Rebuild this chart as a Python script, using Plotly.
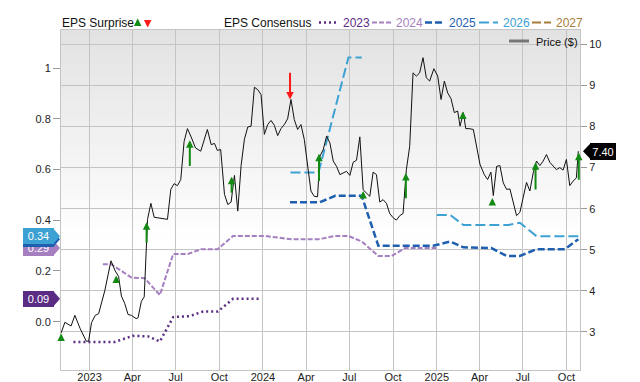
import plotly.graph_objects as go

# ---------------- data ----------------
price_dates = ["2022-11-02","2022-11-10","2022-11-23","2022-12-01","2022-12-12","2022-12-25","2022-12-30",
    "2023-01-05","2023-01-13","2023-01-20","2023-02-02","2023-02-15","2023-02-24","2023-03-03","2023-03-09",
    "2023-03-16","2023-03-23","2023-03-30","2023-04-09","2023-04-13","2023-04-20","2023-04-26","2023-05-03",
    "2023-05-10","2023-05-17","2023-06-12","2023-06-14","2023-06-21","2023-06-28","2023-07-05","2023-07-12",
    "2023-07-19","2023-07-26","2023-08-02","2023-08-12","2023-08-23","2023-09-06","2023-09-14","2023-09-21",
    "2023-09-27","2023-10-04","2023-10-12","2023-10-19","2023-10-26","2023-11-02","2023-11-09","2023-11-16",
    "2023-11-23","2023-11-30","2023-12-07","2023-12-14","2023-12-21","2023-12-28","2024-01-04","2024-01-11",
    "2024-01-18","2024-01-25","2024-02-01","2024-02-08","2024-02-15","2024-02-22","2024-02-29","2024-03-07",
    "2024-03-14","2024-03-21","2024-03-28","2024-04-04","2024-04-11","2024-04-18","2024-04-25","2024-04-30",
    "2024-05-07","2024-05-14","2024-05-21","2024-05-28","2024-06-04","2024-06-11","2024-06-18","2024-06-25",
    "2024-07-02","2024-07-09","2024-07-16","2024-07-23","2024-07-30","2024-08-06","2024-08-13","2024-08-20",
    "2024-08-27","2024-09-03","2024-09-10","2024-09-17","2024-09-24","2024-10-01","2024-10-08","2024-10-15",
    "2024-10-22","2024-10-29","2024-11-05","2024-11-12","2024-11-19","2024-11-26","2024-12-03","2024-12-10",
    "2024-12-17","2024-12-26","2025-01-03","2025-01-10","2025-01-17","2025-01-24","2025-01-31","2025-02-07",
    "2025-02-14","2025-02-19","2025-02-26","2025-03-03","2025-03-10","2025-03-19","2025-03-26","2025-04-02",
    "2025-04-11","2025-04-18","2025-04-25","2025-04-30","2025-05-07","2025-05-14","2025-05-21","2025-05-28",
    "2025-06-04","2025-06-09","2025-06-18","2025-06-25","2025-07-02","2025-07-09","2025-07-16","2025-07-23",
    "2025-07-30","2025-08-06","2025-08-13","2025-08-20","2025-08-27","2025-09-03","2025-09-10","2025-09-17",
    "2025-09-24","2025-10-01","2025-10-08","2025-10-15","2025-10-22","2025-10-26"]
price_vals = [2.97,3.23,3.14,3.40,3.08,2.77,2.77,
    3.22,3.40,3.44,4.00,4.73,4.48,4.35,3.87,
    3.69,3.42,3.40,3.32,3.34,3.74,3.85,5.74,
    6.13,5.79,5.76,5.74,6.47,6.61,6.56,6.71,
    7.64,7.95,7.77,7.48,7.40,7.93,7.56,7.59,
    7.42,7.44,6.35,6.10,6.16,6.81,5.94,7.05,
    7.69,7.99,8.01,8.96,8.90,8.78,7.81,8.05,
    8.15,8.03,7.78,7.95,8.05,8.19,8.66,8.17,
    7.93,8.05,7.69,7.03,6.43,6.30,6.29,7.28,
    7.44,7.77,7.60,7.16,7.03,6.83,6.87,6.91,
    6.81,7.13,7.18,7.75,6.46,6.39,6.30,6.89,
    6.83,6.16,6.22,6.13,5.88,5.78,5.72,5.83,
    5.88,6.95,7.52,9.31,9.23,9.31,9.68,9.19,
    9.11,9.41,9.23,8.66,9.11,8.82,8.68,8.34,
    8.38,8.01,8.34,7.95,7.95,7.93,7.52,7.08,
    6.83,6.71,6.89,6.32,7.03,7.05,6.63,6.47,
    6.48,6.22,5.83,5.91,6.30,6.64,6.43,6.87,
    7.16,7.05,7.16,7.32,7.13,7.05,6.95,7.00,
    6.94,7.20,6.56,6.67,6.75,7.40]

eps2023_dates = ["2022-11-28","2023-02-23","2023-04-02","2023-05-04","2023-05-29","2023-06-26","2023-07-31",
                 "2023-08-28","2023-09-28","2023-10-30","2023-12-29"]
eps2023_vals = [-0.08,-0.08,-0.056,-0.058,-0.078,0.018,0.022,0.04,0.04,0.09,0.09]

eps2024_dates = ["2023-01-29","2023-02-16","2023-03-30","2023-04-27","2023-05-29","2023-06-26","2023-07-27",
                 "2023-08-24","2023-09-28","2023-10-30","2024-01-05","2024-03-01","2024-04-27","2024-06-01",
                 "2024-06-29","2024-07-27","2024-08-31","2024-09-28","2024-10-26","2024-12-31"]
eps2024_vals = [0.226,0.226,0.174,0.171,0.105,0.267,0.267,0.286,0.286,0.338,0.338,0.325,0.325,0.338,
                0.338,0.316,0.259,0.259,0.29,0.29]

eps2025_dates = ["2024-02-27","2024-04-30","2024-06-01","2024-07-27","2024-08-31","2024-12-24","2025-01-29",
                 "2025-02-26","2025-04-26","2025-05-28","2025-06-25","2025-07-30","2025-09-28","2025-10-26"]
eps2025_vals = [0.471,0.471,0.496,0.496,0.299,0.299,0.316,0.293,0.29,0.259,0.259,0.286,0.286,0.325]

eps2026_dates = ["2024-02-28","2024-04-27","2024-06-29","2024-07-27","2024-10-01","2025-01-01","2025-01-29",
                 "2025-02-26","2025-06-01","2025-06-25","2025-07-30","2025-10-26"]
eps2026_vals = [0.588,0.588,1.042,1.042,None,0.421,0.421,0.381,0.381,0.39,0.337,0.337]

surprise_dates = ["2022-11-02","2023-02-26","2023-05-01","2023-07-31","2023-10-27","2024-02-27","2024-04-28",
                  "2024-07-30","2024-10-28","2025-02-25","2025-04-28","2025-07-28","2025-10-27"]
surprise_from = [2.74,4.19,5.13,7.00,6.35,9.35,6.64,6.32,6.22,8.17,6.10,6.43,6.67]
surprise_to = [2.96,4.37,5.67,7.67,6.78,8.66,7.34,6.43,6.87,8.37,6.26,7.13,7.36]

series_names = ["2023", "2024", "2025", "2026", "2027"]
series_colors = ["#5b2c83", "#a57fc0", "#1f5faf", "#3ea1d3", "#a87d3b"]
series_dash = ["2px,3px", "5px,2px", "7px,3px", "10px,4px", "9px,3px"]
series_width = [2.5, 2, 2.5, 2, 2]

x_tick_vals = ["2023-01-01","2023-04-01","2023-07-01","2023-10-01","2024-01-01","2024-04-01","2024-07-01",
               "2024-10-01","2025-01-01","2025-04-01","2025-07-01","2025-10-01"]
x_tick_text = ["2023","Apr","Jul","Oct","2024","Apr","Jul","Oct","2025","Apr","Jul","Oct"]
eps_tick_vals = [0.0, 0.2, 0.4, 0.6, 0.8, 1.0]
eps_tick_text = ["0.0", "0.2", "0.4", "0.6", "0.8", "1"]
price_tick_vals = [3, 4, 5, 6, 7, 8, 9, 10]

# ---------------- layout geometry ----------------
W, H = 640, 382
L, R, T, B = 61, 580, 30, 370
FONT = "Liberation Sans, Arial, sans-serif"
GREEN = "#138a13"
RED = "#ff1a1a"
GRID = "#c4c4c4"
LINE = "#c4c4c4"
X_RANGE = ["2022-11-01 19:00", "2025-10-29 14:00"]
EPS_RANGE = [-0.1906, 1.150]
PRICE_RANGE = [2.068, 10.354]

def px(xp):
    return (xp - L) / (R - L)

def py(yp):
    return (B - yp) / (B - T)

fig = go.Figure()

eps_series = [(eps2023_dates, eps2023_vals), (eps2024_dates, eps2024_vals),
              (eps2025_dates, eps2025_vals), (eps2026_dates, eps2026_vals)]
for i, (d, v) in enumerate(eps_series):
    fig.add_trace(go.Scatter(x=d, y=v, mode="lines", yaxis="y", connectgaps=False,
                             line=dict(color=series_colors[i], width=series_width[i], dash=series_dash[i]),
                             hoverinfo="skip"))

fig.add_trace(go.Scatter(x=price_dates, y=price_vals, mode="lines", yaxis="y2",
                         line=dict(color="#111111", width=1), hoverinfo="skip"))

annotations = []
shapes = []

# background gradient bands (drawn below the axis grid)
n_bands = 60
top_grey, grad_end = 226, 0.62
for k in range(n_bands):
    f0 = k / n_bands
    f1 = (k + 1) / n_bands
    g = int(round(top_grey + (255 - top_grey) * min(1.0, (f0 + f1) / 2 / grad_end)))
    shapes.append(dict(type="rect", xref="x domain", yref="y domain", x0=0, x1=1,
                       y0=1 - f1 - 0.003, y1=1 - f0, layer="below",
                       fillcolor=f"rgb({g},{g},{g})", line=dict(width=0)))

# EPS surprise arrows
for d, f, t in zip(surprise_dates, surprise_from, surprise_to):
    col = GREEN if t >= f else RED
    annotations.append(dict(x=d, y=t, xref="x", yref="y2", ax=d, ay=f, axref="x", ayref="y2",
                            text="", showarrow=True, arrowhead=2, arrowsize=0.75, arrowwidth=2,
                            arrowcolor=col, standoff=0))

# left value boxes (last consensus values)
for i, (d, v) in enumerate(eps_series):
    val = [x for x in v if x is not None][-1]
    shapes.append(dict(type="path", xref="paper", yref="y", xsizemode="pixel", ysizemode="pixel",
                       xanchor=0, yanchor=val, path="M -8,8 L -1,0 L -8,-8 Z",
                       fillcolor=series_colors[i], line=dict(width=0)))
    annotations.append(dict(x=0, y=val, xref="paper", yref="y", xanchor="right", yanchor="middle",
                            xshift=-7, text=f"{val:.2f}", showarrow=False, bgcolor=series_colors[i],
                            width=31, height=16, borderpad=0, borderwidth=0, align="center",
                            font=dict(family=FONT, size=11, color="white")))

# right price box
last_price = price_vals[-1]
shapes.append(dict(type="path", xref="paper", yref="y2", xsizemode="pixel", ysizemode="pixel",
                   xanchor=1, yanchor=last_price, path="M 3,0 L 11,8.5 L 11,-8.5 Z",
                   fillcolor="black", line=dict(width=0)))
annotations.append(dict(x=1, y=last_price, xref="paper", yref="y2", xanchor="left", yanchor="middle",
                        xshift=10, text=f"{last_price:.2f}", showarrow=False, bgcolor="black",
                        width=26, height=17, borderpad=0, borderwidth=0, align="center",
                        font=dict(family=FONT, size=11, color="white")))

# top legend
annotations.append(dict(x=px(60), y=py(23), xref="paper", yref="paper", xanchor="left", yanchor="middle",
                        text="EPS Surprise", showarrow=False, font=dict(family=FONT, size=12, color="#111")))
annotations.append(dict(x=px(137.7), y=py(18.5), xref="paper", yref="paper", ax=0, ay=9, text="",
                        showarrow=True, arrowhead=2, arrowsize=0.75, arrowwidth=2, arrowcolor=GREEN))
annotations.append(dict(x=px(147.7), y=py(27.5), xref="paper", yref="paper", ax=0, ay=-9, text="",
                        showarrow=True, arrowhead=2, arrowsize=0.75, arrowwidth=2, arrowcolor=RED))
annotations.append(dict(x=px(221.5), y=py(23), xref="paper", yref="paper", xanchor="left", yanchor="middle",
                        text="EPS Consensus", showarrow=False, font=dict(family=FONT, size=12, color="#111")))
leg_line_x = [319, 372, 425, 479, 532]
for i, name in enumerate(series_names):
    x0 = leg_line_x[i]
    shapes.append(dict(type="line", xref="paper", yref="paper", x0=px(x0), x1=px(x0 + 19),
                       y0=py(22.5), y1=py(22.5),
                       line=dict(color=series_colors[i], width=series_width[i], dash=series_dash[i])))
    annotations.append(dict(x=px(x0 + 22), y=py(23), xref="paper", yref="paper", xanchor="left",
                            yanchor="middle", text=name, showarrow=False,
                            font=dict(family=FONT, size=12, color=series_colors[i])))

# price legend inside plot
shapes.append(dict(type="line", xref="paper", yref="paper", x0=px(509), x1=px(529), y0=py(41), y1=py(41),
                   line=dict(color="#777777", width=3)))
annotations.append(dict(x=px(534), y=py(41.5), xref="paper", yref="paper", xanchor="left", yanchor="middle",
                        text="Price ($)", showarrow=False, font=dict(family=FONT, size=11, color="#111")))

fig.update_layout(
    width=W, height=H,
    margin=dict(l=L, r=W - R, t=T, b=H - B, pad=0),
    paper_bgcolor="white", plot_bgcolor="white",
    showlegend=False,
    font=dict(family=FONT, size=11, color="#222"),
    xaxis=dict(type="date", range=X_RANGE,
               tickvals=x_tick_vals, ticktext=x_tick_text,
               showgrid=True, gridcolor=GRID, gridwidth=1,
               showline=True, linecolor=LINE, linewidth=1, mirror=True, ticks="", zeroline=False,
               ticklabelstandoff=-3,
               tickfont=dict(family=FONT, size=11, color="#222"), automargin=False),
    yaxis=dict(range=EPS_RANGE, tickvals=eps_tick_vals, ticktext=eps_tick_text,
               showgrid=False, zeroline=False, showline=True, linecolor=LINE, linewidth=1,
               ticks="outside", ticklen=7, tickcolor="#999999",
               tickfont=dict(family=FONT, size=11, color="#222"), automargin=False),
    yaxis2=dict(range=PRICE_RANGE, overlaying="y", side="right", tickvals=price_tick_vals,
                showgrid=True, gridcolor=GRID, gridwidth=1,
                zeroline=False, showline=True, linecolor=LINE, linewidth=1,
                ticks="outside", ticklen=6, tickcolor="#999999",
                tickfont=dict(family=FONT, size=11, color="#222"), automargin=False),
    shapes=shapes, annotations=annotations,
)

fig.write_html("out.html", config={"displayModeBar": False},
               post_script="document.body.style.margin='0px';")
